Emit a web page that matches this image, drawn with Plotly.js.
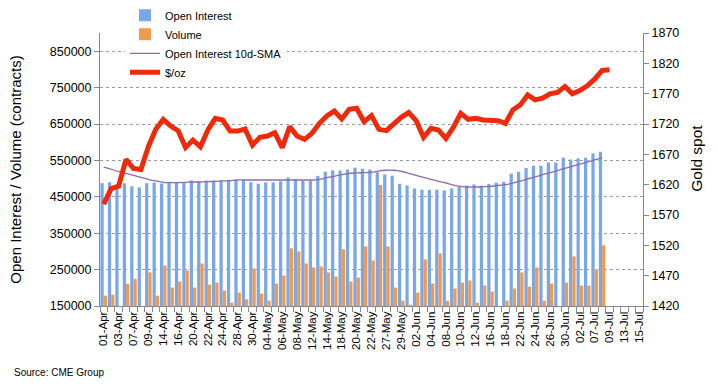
<!DOCTYPE html>
<html>
<head>
<meta charset="utf-8">
<script src="https://cdn.plot.ly/plotly-3.0.1.min.js"></script>
<style>
  html, body { margin: 0; padding: 0; background: #ffffff; }
  #chart { width: 718px; height: 387px; }
</style>
</head>
<body>
<div id="chart"></div>
<script>
// Trading-day categories (Apr 1 – Jul 15)
const dates = [
  "01-Apr","02-Apr","03-Apr","06-Apr","07-Apr","08-Apr","09-Apr","13-Apr","14-Apr","15-Apr",
  "16-Apr","17-Apr","20-Apr","21-Apr","22-Apr","23-Apr","24-Apr","27-Apr","28-Apr","29-Apr",
  "30-Apr","01-May","04-May","05-May","06-May","07-May","08-May","11-May","12-May","13-May",
  "14-May","15-May","18-May","19-May","20-May","21-May","22-May","26-May","27-May","28-May",
  "29-May","01-Jun","02-Jun","03-Jun","04-Jun","05-Jun","08-Jun","09-Jun","10-Jun","11-Jun",
  "12-Jun","15-Jun","16-Jun","17-Jun","18-Jun","19-Jun","22-Jun","23-Jun","24-Jun","25-Jun",
  "26-Jun","29-Jun","30-Jun","01-Jul","02-Jul","06-Jul","07-Jul","08-Jul","09-Jul","10-Jul",
  "13-Jul","14-Jul","15-Jul"
];

// Open interest (contracts)
const openInterest = [
  487500,489700,472000,487500,479000,476000,487500,489000,486500,489000,
  489000,489000,495000,492000,494500,494500,494500,496000,497000,497500,
  490000,486000,489500,489500,492500,503000,497500,493500,493500,507500,
  519000,522500,522500,525000,530000,527000,525000,517500,511500,508000,
  486000,481000,473000,469500,469500,469500,467500,473000,477000,481000,
  484000,480500,485500,489000,491500,513500,519000,529000,535500,535500,
  544000,544000,557500,552500,555500,557500,569000,574000
];

// Volume (contracts)
const volume = [
  178500,181300,140000,210800,224600,140000,242100,178500,261400,200600,
  217200,247600,200600,266900,208900,214500,192400,159200,186800,168400,
  253100,184100,164700,211700,233800,308400,300100,266900,255900,258700,
  242100,231000,305600,217200,228300,313900,275200,482400,313900,200600,
  164700,153700,186800,278000,211700,294600,164700,197900,214500,220000,
  159200,206200,189600,140000,164700,197900,242100,203400,255900,164700,
  211700,148000,214500,286300,206200,206200,250400,316700
];

// Open interest 10-day simple moving average
const oiSMA = [
  531200,525700,519200,514600,509100,503600,498100,493500,489800,488900,
  488900,489800,490700,490700,491600,492500,493500,494400,496200,496200,
  496200,496200,496200,496200,496200,496200,496200,496200,496200,498000,
  502700,506400,511000,514600,515600,516500,517400,521100,522900,522900,
  520200,514600,509100,503600,498100,492500,487900,482400,478700,476900,
  476900,477800,478700,481500,483300,487300,493100,498900,504700,510600,
  516400,522200,528000,533800,539600,545400,551200,557000
];

// Gold spot price ($/oz)
const goldPrice = [
  1588.0,1613.6,1617.4,1661.6,1646.7,1645.0,1682.5,1711.2,1727.7,1716.7,
  1709.0,1681.4,1693.5,1682.5,1710.1,1729.4,1726.6,1708.4,1708.4,1711.7,
  1685.3,1698.0,1700.2,1705.7,1680.9,1715.6,1700.2,1694.6,1704.6,1721.1,
  1733.2,1741.5,1728.3,1744.3,1745.9,1723.9,1734.0,1711.2,1709.0,1720.0,
  1731.0,1738.8,1725.5,1698.0,1712.8,1710.1,1696.3,1714.5,1737.7,1727.7,
  1729.4,1726.6,1725.5,1725.5,1721.0,1743.2,1751.4,1768.0,1759.8,1762.5,
  1769.7,1771.9,1781.8,1769.7,1775.2,1782.9,1793.9,1808.3,1809.4
];

const leftTicks = [150000,250000,350000,450000,550000,650000,750000,850000];
const rightTicks = [1420,1470,1520,1570,1620,1670,1720,1770,1820,1870];
const xTickText = dates.map((d, i) => (i % 2 === 0 ? d : ""));

const FONT = "Liberation Sans, Arial, Helvetica, sans-serif";

const traces = [
  {
    type: "bar", name: "Open Interest",
    x: dates.slice(0, openInterest.length), y: openInterest,
    marker: { color: "#79a8ea", line: { width: 0 } },
    yaxis: "y"
  },
  {
    type: "bar", name: "Volume",
    x: dates.slice(0, volume.length), y: volume,
    marker: { color: "#f3994b", line: { width: 0 } },
    yaxis: "y"
  },
  {
    type: "scatter", mode: "lines", name: "Open Interest 10d-SMA",
    x: dates.slice(0, oiSMA.length), y: oiSMA,
    line: { color: "#8c6bb1", width: 1.3, shape: "spline", smoothing: 0.6 },
    yaxis: "y"
  },
  {
    type: "scatter", mode: "lines", name: "$/oz",
    x: dates.slice(0, goldPrice.length), y: goldPrice,
    line: { color: "#ee2a0b", width: 5 },
    yaxis: "y2"
  }
];

const layout = {
  width: 718, height: 387,
  margin: { l: 100, r: 75, t: 33, b: 81, pad: 0, autoexpand: false },
  paper_bgcolor: "#ffffff", plot_bgcolor: "#ffffff",
  font: { family: FONT, color: "#000000", size: 12 },
  barmode: "group", bargap: 0.12, bargroupgap: 0,
  showlegend: true,
  legend: {
    x: 0.046, y: 1.118, xanchor: "left", yanchor: "top",
    bgcolor: "#ffffff", borderwidth: 0,
    font: { family: FONT, size: 11, color: "#000" },
    itemwidth: 30, traceorder: "normal", tracegroupgap: 0
  },
  xaxis: {
    type: "category", categoryorder: "array", categoryarray: dates,
    range: [-0.5, dates.length - 0.5],
    tickmode: "array", tickvals: dates, ticktext: xTickText,
    tickangle: -90, tickfont: { family: FONT, size: 11.5, color: "#000" },
    ticks: "outside", ticklen: 5, tickcolor: "#888", tickson: "boundaries",
    showline: true, linecolor: "#888", linewidth: 1,
    showgrid: false, zeroline: false, fixedrange: true
  },
  yaxis: {
    range: [150000, 900000],
    tickmode: "array", tickvals: leftTicks, ticktext: leftTicks.map(String),
    tickfont: { family: FONT, size: 12.5, color: "#000" },
    ticks: "outside", ticklen: 5, tickcolor: "#888",
    showline: true, linecolor: "#888", linewidth: 1,
    showgrid: true, gridcolor: "#9a9a9a", griddash: "dot", gridwidth: 1,
    zeroline: false,
    title: { text: "Open Interest / Volume (contracts)", font: { family: FONT, size: 15, color: "#000" }, standoff: 24 }
  },
  yaxis2: {
    overlaying: "y", side: "right",
    range: [1420, 1870],
    tickmode: "array", tickvals: rightTicks, ticktext: rightTicks.map(String),
    tickfont: { family: FONT, size: 12.5, color: "#000" },
    ticks: "outside", ticklen: 5, tickcolor: "#888",
    showline: true, linecolor: "#888", linewidth: 1,
    showgrid: false, zeroline: false
  },
  annotations: [
    {
      xref: "paper", yref: "paper", x: 1.097, y: 0.542,
      text: "Gold spot", textangle: -90, showarrow: false,
      xanchor: "center", yanchor: "middle",
      font: { family: FONT, size: 15.5, color: "#000" }
    },
    {
      xref: "paper", yref: "paper", x: -0.162, y: -0.245,
      text: "Source: CME Group", showarrow: false,
      xanchor: "left", yanchor: "middle",
      font: { family: FONT, size: 10, color: "#000" }
    }
  ]
};

Plotly.newPlot("chart", traces, layout, { displayModeBar: false, staticPlot: true });
</script>
</body>
</html>
